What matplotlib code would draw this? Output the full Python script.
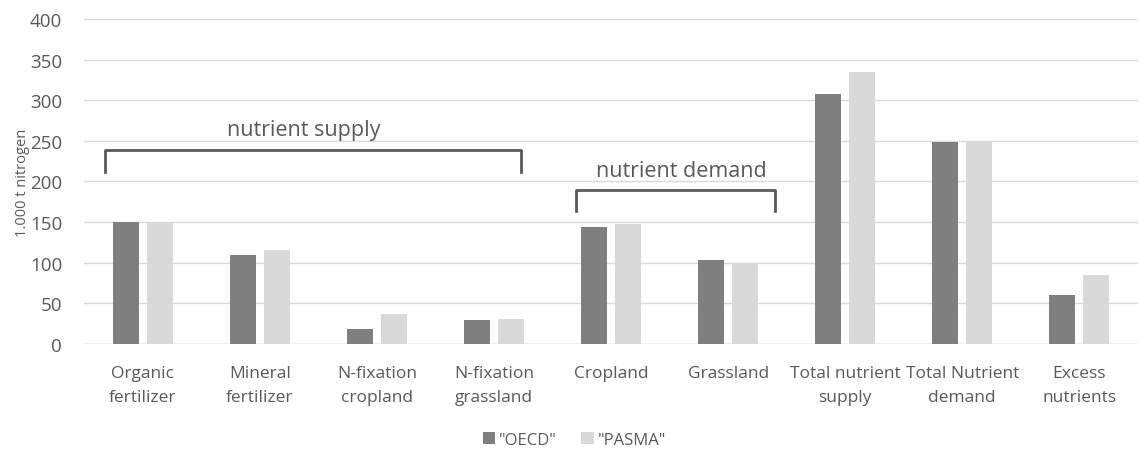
import matplotlib.pyplot as plt
import numpy as np

categories = ["Organic\nfertilizer", "Mineral\nfertilizer", "N-fixation\ncropland",
              "N-fixation\ngrassland", "Cropland", "Grassland",
              "Total nutrient\nsupply", "Total Nutrient\ndemand", "Excess\nnutrients"]
oecd = [150, 109, 18, 29, 144, 103, 307, 248, 60]
pasma = [150, 115, 37, 31, 148, 100, 335, 248, 85]
series_names = ['"OECD"', '"PASMA"']
yticks = [0, 50, 100, 150, 200, 250, 300, 350, 400]

plt.rcParams['font.family'] = ['Open Sans', 'DejaVu Sans']
txt = '#595959'

fig = plt.figure(figsize=(11.39, 4.52), dpi=100)
ax = fig.add_axes([0.074, 0.237, 0.925, 0.719])

x = np.arange(len(categories))
w = 0.22
ax.bar(x - 0.145, oecd, w, color='#7f7f7f', label=series_names[0], zorder=3)
ax.bar(x + 0.145, pasma, w, color='#d9d9d9', label=series_names[1], zorder=3)

ax.set_xlim(-0.5, len(categories) - 0.5)
ax.set_ylim(0, 400)
ax.set_yticks(yticks)
ax.yaxis.grid(True, color='#d9d9d9', lw=1, zorder=0)
for s in ax.spines.values():
    s.set_visible(False)
ax.axhline(0, color='#d9d9d9', lw=1, zorder=2)
ax.set_xticks(x)
ax.set_xticklabels(categories, fontsize=12.5, color=txt, linespacing=1.65)
ax.tick_params(axis='both', length=0, colors=txt)
ax.tick_params(axis='x', pad=15, labelsize=12.5)
ax.tick_params(axis='y', pad=16, labelsize=13.5)
ax.set_ylabel("1.000 t nitrogen", fontsize=10.5, color=txt, labelpad=0)

# brackets
bc = '#595959'
ax.plot([-0.32, -0.32, 3.23, 3.23], [211, 239, 239, 211], color=bc, lw=2, zorder=4,
        solid_joinstyle='round')
ax.text(1.37, 264, "nutrient supply", ha='center', va='center', fontsize=15.5, color=txt)
ax.plot([3.70, 3.70, 5.40, 5.40], [164, 189, 189, 164], color=bc, lw=2, zorder=4,
        solid_joinstyle='round')
ax.text(4.6, 214, "nutrient demand", ha='center', va='center', fontsize=15.5, color=txt)

ax.legend(loc='center', bbox_to_anchor=(0.465, -0.295), ncol=2, frameon=False,
          fontsize=12, labelcolor=txt, handlelength=0.75, handleheight=0.75,
          handletextpad=0.2, columnspacing=1.5, borderpad=0)

fig.savefig('out.png', dpi=100)
